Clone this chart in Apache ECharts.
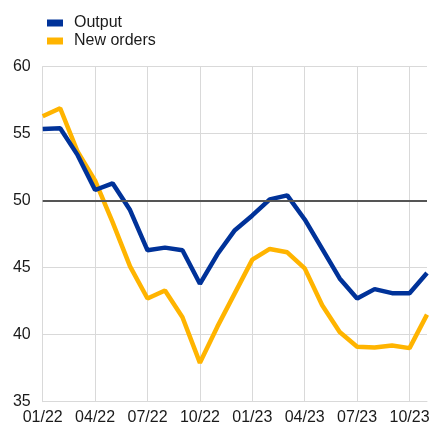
<!DOCTYPE html>
<html>
<head>
<meta charset="utf-8">
<script src="https://cdn.jsdelivr.net/npm/echarts@6/dist/echarts.min.js"></script>
<style>
  html, body { margin: 0; padding: 0; background: #fff; }
  #chart { width: 438px; height: 427px; }
</style>
</head>
<body>
<div id="chart"></div>
<script>
// months 01/22 .. 11/23
var months = ['01/22','02/22','03/22','04/22','05/22','06/22','07/22','08/22','09/22','10/22','11/22','12/22',
              '01/23','02/23','03/23','04/23','05/23','06/23','07/23','08/23','09/23','10/23','11/23'];
var output = [55.35, 55.4, 53.4, 50.8, 51.3, 49.3, 46.3, 46.5, 46.3, 43.8, 46.0, 47.8,
              48.9, 50.1, 50.4, 48.6, 46.4, 44.2, 42.7, 43.4, 43.1, 43.1, 44.6];
var newOrders = [56.3, 56.9, 53.65, 51.5, 48.4, 45.1, 42.7, 43.3, 41.3, 37.9, 40.6, 43.1,
                 45.6, 46.4, 46.15, 44.95, 42.2, 40.2, 39.1, 39.05, 39.2, 39.0, 41.5];
var threshold = 50;

var chart = echarts.init(document.getElementById('chart'));
var option = {
  animation: false,
  textStyle: { fontFamily: 'Liberation Sans' },
  legend: {
    orient: 'vertical',
    left: 42,
    top: 10,
    icon: 'rect',
    itemWidth: 16,
    itemHeight: 7,
    itemGap: 2,
    textStyle: { fontFamily: 'Liberation Sans', fontSize: 16, color: '#1a1a1a', padding: [0, 0, 0, 6] },
    data: ['Output', 'New orders']
  },
  grid: { left: 42.7, right: 11, top: 66.7, bottom: 25.3, containLabel: false },
  xAxis: {
    type: 'category',
    boundaryGap: false,
    data: months,
    axisLine: { lineStyle: { color: '#d9d9d9', width: 1 } },
    axisTick: { show: false },
    axisLabel: { interval: 2, color: '#1a1a1a', fontFamily: 'Liberation Sans', fontSize: 16, margin: 8 },
    splitLine: { show: true, interval: 2, lineStyle: { color: '#d9d9d9', width: 1 } }
  },
  yAxis: {
    type: 'value',
    min: 35,
    max: 60,
    interval: 5,
    axisLine: { show: true, lineStyle: { color: '#d9d9d9', width: 1 } },
    axisTick: { show: false },
    axisLabel: { color: '#1a1a1a', fontFamily: 'Liberation Sans', fontSize: 16, margin: 12 },
    splitLine: { lineStyle: { color: '#d9d9d9', width: 1 } }
  },
  series: [
    {
      name: 'Output',
      type: 'line',
      data: output,
      symbol: 'none',
      lineStyle: { color: '#003299', width: 4.5 },
      itemStyle: { color: '#003299' },
      z: 3,
      markLine: {
        silent: true,
        symbol: 'none',
        label: { show: false },
        lineStyle: { color: '#555555', width: 2, type: 'solid' },
        data: [{ yAxis: threshold }]
      }
    },
    {
      name: 'New orders',
      type: 'line',
      data: newOrders,
      symbol: 'none',
      lineStyle: { color: '#ffb400', width: 4.5 },
      itemStyle: { color: '#ffb400' },
      z: 2
    }
  ]
};
chart.setOption(option);
</script>
</body>
</html>
